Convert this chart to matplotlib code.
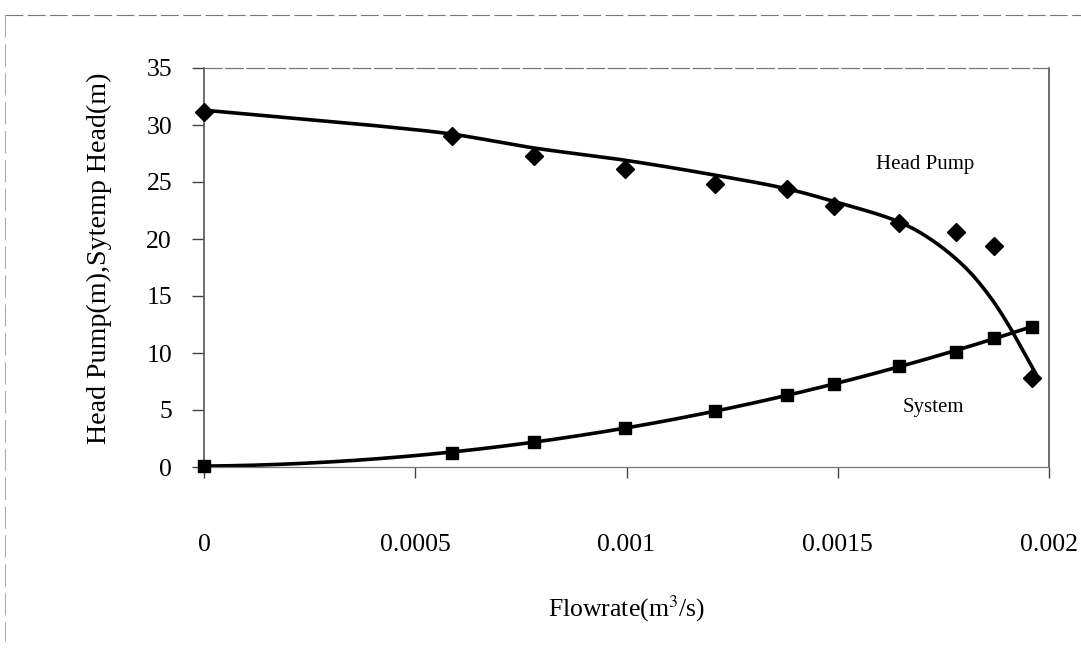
import numpy as np
import matplotlib
matplotlib.use("Agg")
import matplotlib.pyplot as plt
from matplotlib.lines import Line2D

# dados
vazao = [0, 0.000587, 0.00078, 0.000997, 0.00121, 0.00138, 0.00149, 0.001645, 0.00178, 0.00187, 0.00196]
head_pump = [31.1, 29.0, 27.3, 26.1, 24.8, 24.4, 22.9, 21.4, 20.6, 19.4, 7.8]
system_head = [0.1, 1.25, 2.2, 3.4, 4.9, 6.3, 7.3, 8.9, 10.1, 11.3, 12.3]

# curva de tendencia da bomba
trend_x = [0, 0.00018, 0.000417, 0.000587, 0.000778, 0.000998, 0.00121, 0.00138,
           0.00149, 0.001645, 0.001723, 0.001802, 0.001861, 0.001905, 0.001937, 0.00197]
trend_y = [31.3, 30.7, 29.9, 29.2, 28.0, 26.9, 25.6, 24.4,
           23.3, 21.5, 19.9, 17.5, 14.9, 12.4, 10.3, 8.1]

xticks = [0, 0.0005, 0.001, 0.0015, 0.002]
xticklabels = ["0", "0.0005", "0.001", "0.0015", "0.002"]
yticks = [0, 5, 10, 15, 20, 25, 30, 35]


# suaviza a curva (catmull-rom centripeta) so para desenhar
def suaviza(px, py, n=24):
    p = np.column_stack([px, py]).astype(float)
    p = np.vstack([2*p[0] - p[1], p, 2*p[-1] - p[-2]])
    out = []
    for i in range(1, len(p) - 2):
        p0, p1, p2, p3 = p[i-1], p[i], p[i+1], p[i+2]
        t0 = 0.0
        t1 = t0 + np.linalg.norm(p1 - p0)**0.5
        t2 = t1 + np.linalg.norm(p2 - p1)**0.5
        t3 = t2 + np.linalg.norm(p3 - p2)**0.5
        t = np.linspace(t1, t2, n, endpoint=False)[:, None]
        a1 = (t1 - t)/(t1 - t0)*p0 + (t - t0)/(t1 - t0)*p1
        a2 = (t2 - t)/(t2 - t1)*p1 + (t - t1)/(t2 - t1)*p2
        a3 = (t3 - t)/(t3 - t2)*p2 + (t - t2)/(t3 - t2)*p3
        b1 = (t2 - t)/(t2 - t0)*a1 + (t - t0)/(t2 - t0)*a2
        b2 = (t3 - t)/(t3 - t1)*a2 + (t - t1)/(t3 - t1)*a3
        out.append((t2 - t)/(t2 - t1)*b1 + (t - t1)/(t2 - t1)*b2)
    out.append(p[-2][None, :])
    out = np.vstack(out)
    return out[:, 0], out[:, 1]


plt.rcParams['font.family'] = ['Liberation Serif', 'DejaVu Serif']
plt.rcParams['mathtext.fontset'] = 'stix'

fig = plt.figure(figsize=(10.81, 6.54), dpi=100)
ax = fig.add_axes([204/1081, 1-467/654, 845/1081, 399/654])

# escala x pra ficar parecida com y na tela
k = 37000.0
sx, sy = suaviza(np.array(trend_x)*k, trend_y)
ax.plot(sx/k, sy, color='black', lw=2.6, solid_capstyle='round')

x = np.array(vazao)
xx = np.linspace(0, max(vazao), 300)
ps = np.polyfit(x*1000, system_head, 2)
ax.plot(xx, np.polyval(ps, xx*1000), color='black', lw=2.6)

ax.plot(vazao, head_pump, 'D', color='black', ms=9, ls='none', clip_on=False, zorder=5)
ax.plot(vazao, system_head, 's', color='black', ms=8.5, ls='none', clip_on=False, zorder=5)

ax.set_xlim(0, 0.002)
ax.set_ylim(0, 35)
ax.set_xticks(xticks)
ax.set_xticklabels(xticklabels)
ax.set_yticks(yticks)
ax.tick_params(axis='x', direction='out', length=8, width=1, color='#444', labelsize=18.5, pad=40)
ax.tick_params(axis='y', direction='out', length=9, width=1, color='#444', labelsize=18.5, pad=14)

for s in ['left', 'right']:
    ax.spines[s].set_color('#555')
    ax.spines[s].set_linewidth(1.2)
for s in ['top', 'bottom']:
    ax.spines[s].set_color('#777')
    ax.spines[s].set_linewidth(0.9)
ax.spines['top'].set_linestyle((0, (14, 3)))

ax.set_ylabel("Head Pump(m),Sytemp Head(m)", fontsize=20.2)
ax.yaxis.set_label_coords(-92/845, (467-258)/399)
ax.set_xlabel(r"Flowrate(m$^3$/s)", fontsize=18.5, labelpad=27)

ax.text(0.00159, 26.5, "Head Pump", fontsize=15, ha='left', va='center')
ax.text(0.001654, 5.26, "System", fontsize=15, ha='left', va='center')

# moldura externa
fig.add_artist(Line2D([5/1081, 1], [1-15/654, 1-15/654], color='#777', lw=0.8, ls=(0, (16, 4))))
fig.add_artist(Line2D([5/1081, 5/1081], [1-15/654, 0.02], color='#aaa', lw=0.8, ls=(0, (20, 6))))

fig.savefig("out.png", dpi=100)
